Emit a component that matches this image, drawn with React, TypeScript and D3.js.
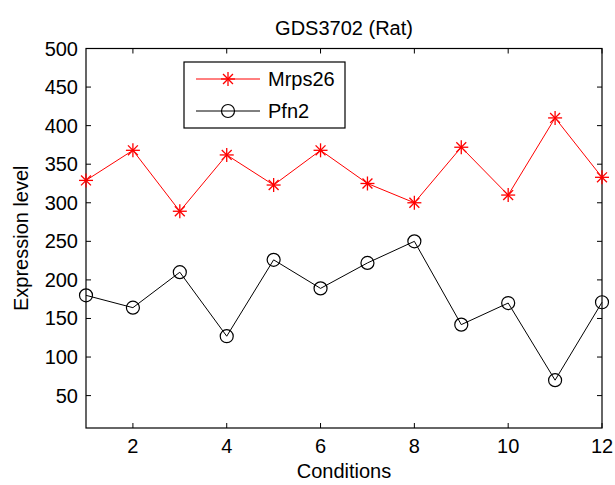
import { useEffect, useRef } from 'react'
import * as d3 from 'd3'

const conditions = [1, 2, 3, 4, 5, 6, 7, 8, 9, 10, 11, 12]
const mrps26 = [329, 368, 289, 362, 323, 368, 325, 300, 372, 310, 410, 333]
const pfn2 = [180, 164, 210, 127, 226, 189, 222, 250, 142, 170, 70, 171]
const xTicks = [2, 4, 6, 8, 10, 12]
const yTicks = [50, 100, 150, 200, 250, 300, 350, 400, 450, 500]

const W = 615
const H = 485
const margin = { top: 48.5, right: 13, bottom: 57, left: 86 }
const FONT = 'Arial, "Liberation Sans", sans-serif'

const App = () => {
  const svgRef = useRef<SVGSVGElement>(null)

  useEffect(() => {
    const svg = d3.select(svgRef.current)
    svg.selectAll('*').remove()

    const x0 = margin.left
    const x1 = W - margin.right
    const y0 = H - margin.bottom
    const y1 = margin.top

    const xScale = d3.scaleLinear().domain([1, 12]).range([x0, x1])
    const yScale = d3.scaleLinear().domain([8, 500]).range([y0, y1])

    svg.append('rect').attr('width', W).attr('height', H).attr('fill', 'white')

    // ticks (inward, on all four sides like matlab's box)
    const tl = 5
    xTicks.forEach(t => {
      const x = xScale(t)
      svg.append('line').attr('x1', x).attr('x2', x).attr('y1', y0).attr('y2', y0 - tl).attr('stroke', 'black')
      svg.append('line').attr('x1', x).attr('x2', x).attr('y1', y1).attr('y2', y1 + tl).attr('stroke', 'black')
      svg.append('text')
        .attr('x', x)
        .attr('y', y0 + 25)
        .attr('text-anchor', 'middle')
        .style('font-family', FONT)
        .style('font-size', '20px')
        .text(t)
    })
    yTicks.forEach(t => {
      const y = yScale(t)
      svg.append('line').attr('x1', x0).attr('x2', x0 + tl).attr('y1', y).attr('y2', y).attr('stroke', 'black')
      svg.append('line').attr('x1', x1).attr('x2', x1 - tl).attr('y1', y).attr('y2', y).attr('stroke', 'black')
      svg.append('text')
        .attr('x', x0 - 8)
        .attr('y', y + 7)
        .attr('text-anchor', 'end')
        .style('font-family', FONT)
        .style('font-size', '20px')
        .text(t)
    })

    svg.append('rect')
      .attr('x', x0)
      .attr('y', y1)
      .attr('width', x1 - x0)
      .attr('height', y0 - y1)
      .attr('fill', 'none')
      .attr('stroke', 'black')
      .attr('stroke-width', 1.2)

    const star = (g, cx, cy, r, color) => {
      for (let a = 0; a < 4; a++) {
        const ang = (a * Math.PI) / 4
        g.append('line')
          .attr('x1', cx - r * Math.cos(ang))
          .attr('x2', cx + r * Math.cos(ang))
          .attr('y1', cy - r * Math.sin(ang))
          .attr('y2', cy + r * Math.sin(ang))
          .attr('stroke', color)
          .attr('stroke-width', 1.3)
      }
    }

    const line = d3.line<number>()
      .x((_, i) => xScale(conditions[i]))
      .y(d => yScale(d))

    svg.append('path')
      .datum(mrps26)
      .attr('fill', 'none')
      .attr('stroke', 'red')
      .attr('stroke-width', 1)
      .attr('d', line)

    mrps26.forEach((v, i) => star(svg, xScale(conditions[i]), yScale(v), 7, 'red'))

    svg.append('path')
      .datum(pfn2)
      .attr('fill', 'none')
      .attr('stroke', 'black')
      .attr('stroke-width', 1)
      .attr('d', line)

    pfn2.forEach((v, i) => {
      svg.append('circle')
        .attr('cx', xScale(conditions[i]))
        .attr('cy', yScale(v))
        .attr('r', 6.5)
        .attr('fill', 'none')
        .attr('stroke', 'black')
        .attr('stroke-width', 1.2)
    })

    // legend
    const legend = svg.append('g').attr('transform', 'translate(184,62)')
    legend.append('rect')
      .attr('width', 161)
      .attr('height', 66)
      .attr('fill', 'white')
      .attr('stroke', 'black')
      .attr('stroke-width', 1.2)

    const legendItems = [
      { label: 'Mrps26', color: 'red', marker: 'star' },
      { label: 'Pfn2', color: 'black', marker: 'circle' }
    ]
    legendItems.forEach((item, i) => {
      const ly = 17 + i * 32
      legend.append('line')
        .attr('x1', 12).attr('x2', 76)
        .attr('y1', ly).attr('y2', ly)
        .attr('stroke', item.color)
      if (item.marker === 'star') star(legend, 44, ly, 7, item.color)
      else legend.append('circle').attr('cx', 44).attr('cy', ly).attr('r', 6.5)
        .attr('fill', 'none').attr('stroke', item.color).attr('stroke-width', 1.2)
      legend.append('text')
        .attr('x', 84)
        .attr('y', ly + 7)
        .style('font-family', FONT)
        .style('font-size', '20px')
        .text(item.label)
    })

    svg.append('text')
      .attr('x', (x0 + x1) / 2)
      .attr('y', 35)
      .attr('text-anchor', 'middle')
      .style('font-family', FONT)
      .style('font-size', '20px')
      .text('GDS3702 (Rat)')

    svg.append('text')
      .attr('x', (x0 + x1) / 2)
      .attr('y', 478)
      .attr('text-anchor', 'middle')
      .style('font-family', FONT)
      .style('font-size', '20px')
      .text('Conditions')

    svg.append('text')
      .attr('transform', `translate(28,${(y0 + y1) / 2}) rotate(-90)`)
      .attr('text-anchor', 'middle')
      .style('font-family', FONT)
      .style('font-size', '20px')
      .text('Expression level')
  }, [])

  return (
    <svg ref={svgRef} width={W} height={H} style={{ position: 'absolute', left: 0, top: 0 }}></svg>
  )
}

export default App
